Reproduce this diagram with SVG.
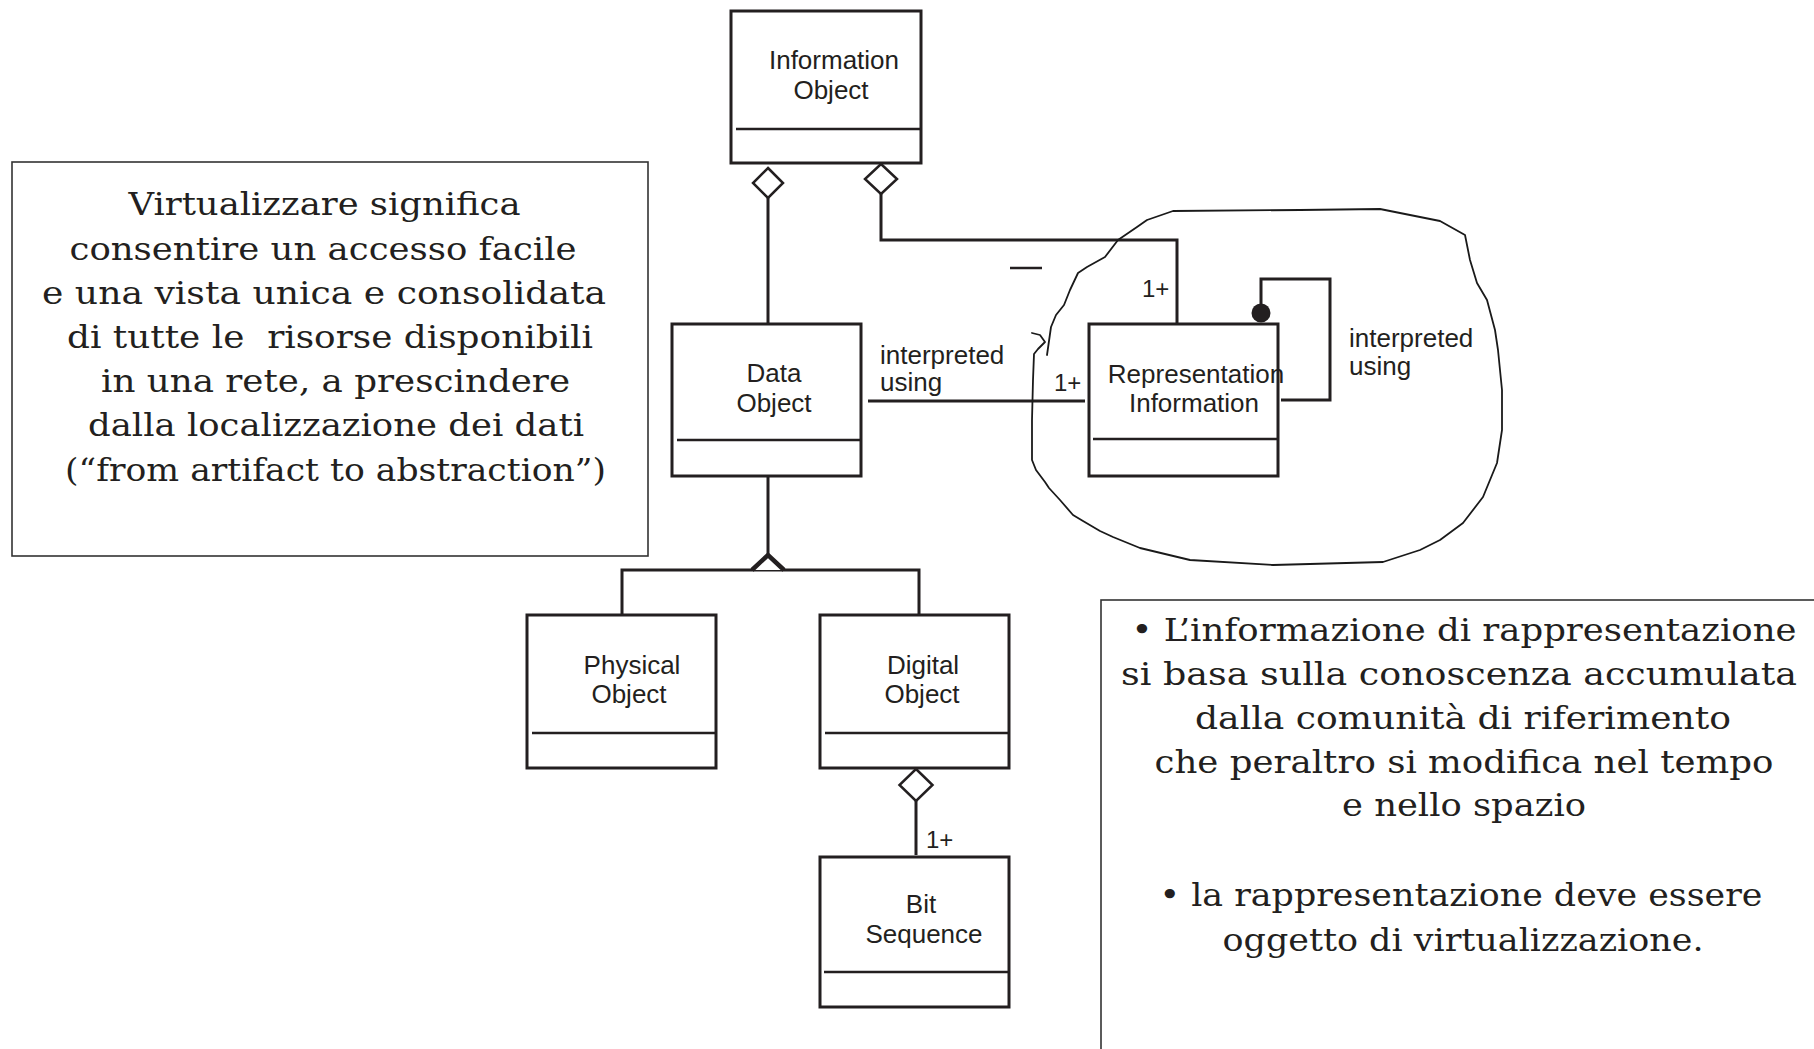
<svg xmlns="http://www.w3.org/2000/svg" width="1814" height="1049" viewBox="0 0 1814 1049">
<style>
.box{fill:#fff;stroke:#231f20;stroke-width:3}
.div{stroke:#231f20;stroke-width:2.5;fill:none}
.lbl{font-family:"Liberation Sans",Arial,sans-serif;font-size:26px;fill:#231f20;text-anchor:middle}
.lab{font-family:"Liberation Sans",Arial,sans-serif;font-size:26px;fill:#231f20}
.mult{font-family:"Liberation Sans",Arial,sans-serif;font-size:24px;fill:#231f20}
.con{stroke:#231f20;stroke-width:3;fill:none}
.dia{fill:#fff;stroke:#231f20;stroke-width:2.5}
.note{fill:#fff;stroke:#333;stroke-width:1.6}
.ntx{font-family:"DejaVu Serif","Liberation Serif",serif;font-size:32px;fill:#231f20;text-anchor:middle}
.blob{fill:none;stroke:#1a1a1a;stroke-width:1.8;stroke-linejoin:round;stroke-linecap:round}
</style>
<rect width="1814" height="1049" fill="#fff"/>

<g id="note-left">
<rect class="note" x="12" y="162" width="636" height="394"/>
<text class="ntx" x="324.5" y="215" textLength="392" lengthAdjust="spacingAndGlyphs">Virtualizzare significa</text>
<text class="ntx" x="323" y="260" textLength="507" lengthAdjust="spacingAndGlyphs">consentire un accesso facile</text>
<text class="ntx" x="324" y="304" textLength="564" lengthAdjust="spacingAndGlyphs">e una vista unica e consolidata</text>
<text class="ntx" x="330" y="348" textLength="526" lengthAdjust="spacingAndGlyphs" xml:space="preserve">di tutte le  risorse disponibili</text>
<text class="ntx" x="335.5" y="392" textLength="469" lengthAdjust="spacingAndGlyphs">in una rete, a prescindere</text>
<text class="ntx" x="336" y="436" textLength="496" lengthAdjust="spacingAndGlyphs">dalla localizzazione dei dati</text>
<text class="ntx" x="335.5" y="481" textLength="541" lengthAdjust="spacingAndGlyphs">(“from artifact to abstraction”)</text>
</g>

<g id="note-right">
<rect class="note" x="1101" y="600" width="740" height="480"/>
<text class="ntx" x="1464" y="641" textLength="665" lengthAdjust="spacingAndGlyphs">• L’informazione di rappresentazione</text>
<text class="ntx" x="1459" y="685" textLength="676" lengthAdjust="spacingAndGlyphs">si basa sulla conoscenza accumulata</text>
<text class="ntx" x="1463" y="729" textLength="536" lengthAdjust="spacingAndGlyphs">dalla comunità di riferimento</text>
<text class="ntx" x="1464" y="773" textLength="619" lengthAdjust="spacingAndGlyphs">che peraltro si modifica nel tempo</text>
<text class="ntx" x="1464" y="816" textLength="244" lengthAdjust="spacingAndGlyphs">e nello spazio</text>
<text class="ntx" x="1461" y="906" textLength="603" lengthAdjust="spacingAndGlyphs">• la rappresentazione deve essere</text>
<text class="ntx" x="1463" y="951" textLength="481" lengthAdjust="spacingAndGlyphs">oggetto di virtualizzazione.</text>
</g>

<g id="connectors">
<!-- Information Object aggregates Data Object -->
<line class="con" x1="768" y1="198" x2="768" y2="324"/>
<polygon class="dia" points="768,168 783,183 768,198 753,183"/>
<!-- Information Object aggregates Representation Information -->
<polyline class="con" points="881,194 881,240 1177,240 1177,324"/>
<polygon class="dia" points="881,164 897,179 881,194 865,179"/>
<text class="mult" x="1142" y="297">1+</text>
<line x1="1010" y1="268" x2="1042" y2="268" stroke="#231f20" stroke-width="2.5"/>
<!-- Data Object interpreted using Representation Information -->
<line class="con" x1="868" y1="401" x2="1085" y2="401"/>
<text class="lab" x="880" y="364">interpreted</text>
<text class="lab" x="880" y="391">using</text>
<text class="mult" x="1054" y="391">1+</text>
<!-- self association -->
<polyline class="con" points="1261,313 1261,279 1330,279 1330,400 1281,400"/>
<circle cx="1261" cy="313" r="9.5" fill="#231f20"/>
<text class="lab" x="1349" y="347">interpreted</text>
<text class="lab" x="1349" y="375">using</text>
<!-- generalization -->
<line class="con" x1="768" y1="477" x2="768" y2="556"/>
<polyline class="con" points="622,615 622,570 919,570 919,615"/>
<polyline points="752,570 768,555 784,570" fill="#fff" stroke="#231f20" stroke-width="4.5" stroke-linejoin="miter"/>
<!-- Digital Object aggregates Bit Sequence -->
<line class="con" x1="916" y1="801" x2="916" y2="855"/>
<polygon class="dia" points="916,769 932.5,785 916,801 899.5,785"/>
<text class="mult" x="926" y="848">1+</text>
</g>

<g id="information-object">
<rect class="box" x="731" y="11" width="190" height="152"/>
<line class="div" x1="736" y1="129" x2="921" y2="129"/>
<text class="lbl" x="834" y="69">Information</text>
<text class="lbl" x="831" y="99">Object</text>
</g>

<g id="data-object">
<rect class="box" x="672" y="324" width="189" height="152"/>
<line class="div" x1="677" y1="440" x2="861" y2="440"/>
<text class="lbl" x="774" y="382">Data</text>
<text class="lbl" x="774" y="412">Object</text>
</g>

<g id="representation-information">
<rect class="box" x="1089" y="324" width="189" height="152"/>
<line class="div" x1="1093" y1="439" x2="1278" y2="439"/>
<text class="lbl" x="1196" y="383">Representation</text>
<text class="lbl" x="1194" y="412">Information</text>
</g>

<g id="physical-object">
<rect class="box" x="527" y="615" width="189" height="153"/>
<line class="div" x1="532" y1="733" x2="716" y2="733"/>
<text class="lbl" x="632" y="674">Physical</text>
<text class="lbl" x="629" y="703">Object</text>
</g>

<g id="digital-object">
<rect class="box" x="820" y="615" width="189" height="153"/>
<line class="div" x1="825" y1="733" x2="1009" y2="733"/>
<text class="lbl" x="923" y="674">Digital</text>
<text class="lbl" x="922" y="703">Object</text>
</g>

<g id="bit-sequence">
<rect class="box" x="820" y="857" width="189" height="150"/>
<line class="div" x1="824" y1="972" x2="1009" y2="972"/>
<text class="lbl" x="921" y="913">Bit</text>
<text class="lbl" x="924" y="943">Sequence</text>
</g>

<g id="hand-drawn-outline">
<path class="blob" d="M1032,333 L1040,335 L1045,342 L1038,349 L1034,354 L1033,380 L1032,420 L1032,460 L1036,470 L1045,482 L1049,488 L1060,500 L1073,515 L1083,521 L1100,531 L1113,537 L1140,548 L1190,560 L1273,565 L1383,562 L1420,550 L1440,540 L1463,523 L1483,497 L1497,463 L1502,430 L1502,390 L1498,350 L1495,330 L1487,300 L1477,283 L1470,260 L1465,235 L1440,221 L1380,209 L1300,210 L1173,211 L1147,220 L1137,227 L1118,240 L1105,257 L1087,267 L1078,273 L1070,290 L1064,305 L1056,315 L1051,327 L1047,355"/>
</g>
</svg>
